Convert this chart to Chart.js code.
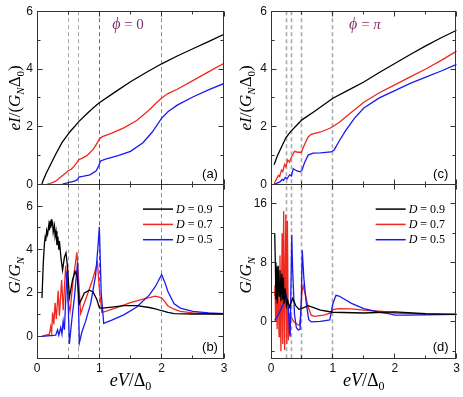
<!DOCTYPE html>
<html><head><meta charset="utf-8">
<script src="https://cdn.jsdelivr.net/npm/chart.js@4"></script>
<style>
html,body{margin:0;padding:0;background:#fff;}
#wrap{position:relative;width:463px;height:397px;overflow:hidden;}
.c{position:absolute;top:0;height:397px;}
</style></head><body>
<div id="wrap">
<div class="c" style="left:0;width:232px"><canvas id="cl"></canvas></div>
<div class="c" style="left:234px;width:229px"><canvas id="cr"></canvas></div>
</div>
<script>
// ---- tick labels ----
const xTicks = [0, 1, 2, 3];
const iTicks = [0, 2, 4, 6];
const gTicksPhi0 = [0, 2, 4, 6];
const gTicksPhiPi = [0, 8, 16];
const seriesNames = ['D', 'D', 'D'];
const seriesValues = ['0.9', '0.7', '0.5'];
const dashesPhi0 = [0.5, 0.667, 1, 2];
const dashesPhiPi = [0.25, 0.333, 0.5, 1];

// ---- (a) I-V, phi = 0 ----
const a_D09 = [[0.075,0.0],[0.1,0.15],[0.15,0.4],[0.2,0.62],[0.3,1.05],[0.4,1.45],[0.5,1.75],[0.55,1.88],[0.6,2.0],[0.67,2.18],[0.8,2.45],[0.9,2.65],[1.0,2.83],[1.25,3.2],[1.5,3.56],[1.75,3.88],[2.0,4.18],[2.25,4.45],[2.5,4.7],[2.75,4.95],[3.0,5.2]];
const a_D07 = [[0.075,0],[0.15,0.0],[0.2,0.03],[0.3,0.12],[0.4,0.3],[0.47,0.42],[0.5,0.48],[0.55,0.53],[0.6,0.65],[0.67,0.86],[0.72,0.91],[0.8,1.0],[0.9,1.22],[0.97,1.45],[1.0,1.58],[1.05,1.66],[1.2,1.78],[1.4,1.97],[1.6,2.22],[1.8,2.58],[1.9,2.8],[2.0,3.0],[2.1,3.15],[2.25,3.3],[2.5,3.6],[2.75,3.9],[3.0,4.2]];
const a_D05 = [[0.075,0],[0.3,0.0],[0.4,0.01],[0.5,0.07],[0.6,0.12],[0.65,0.17],[0.67,0.26],[0.75,0.29],[0.85,0.34],[0.95,0.48],[0.99,0.65],[1.02,0.82],[1.1,0.88],[1.3,1.0],[1.5,1.15],[1.7,1.45],[1.85,1.82],[2.0,2.3],[2.1,2.52],[2.25,2.75],[2.5,3.03],[2.75,3.28],[3.0,3.5]];

// ---- (b) G, phi = 0 ----
const b_D09 = [[0.08,1.77],[0.1,3.35],[0.12,4.3],[0.13,4.55],[0.14,4.4],[0.155,4.88],[0.17,4.7],[0.19,5.15],[0.2,4.9],[0.21,5.33],[0.22,5.0],[0.23,5.4],[0.24,5.1],[0.25,5.3],[0.26,4.8],[0.28,5.1],[0.29,4.6],[0.305,4.85],[0.32,4.2],[0.335,4.6],[0.35,4.0],[0.36,4.4],[0.385,3.6],[0.41,3.05],[0.44,3.65],[0.465,3.85],[0.49,3.2],[0.52,1.8],[0.57,2.6],[0.61,3.0],[0.645,2.75],[0.68,1.5],[0.76,2.0],[0.84,2.13],[0.9,2.05],[0.96,1.7],[1.0,1.32],[1.05,1.3],[1.2,1.35],[1.4,1.42],[1.6,1.42],[1.8,1.33],[1.9,1.27],[2.0,1.18],[2.1,1.1],[2.2,1.05],[2.5,1.03],[3.0,1.03]];
const b_D07 = [[0.075,0],[0.2,0.1],[0.22,0.45],[0.235,0.2],[0.25,1.1],[0.27,0.55],[0.29,1.55],[0.31,0.8],[0.34,2.1],[0.36,0.95],[0.395,2.6],[0.42,1.2],[0.46,3.25],[0.5,1.6],[0.53,1.15],[0.58,2.6],[0.64,3.88],[0.67,2.5],[0.7,1.05],[0.78,1.7],[0.89,2.6],[0.97,3.4],[1.0,2.2],[1.04,1.1],[1.1,1.15],[1.3,1.35],[1.5,1.55],[1.7,1.72],[1.9,1.85],[2.0,1.78],[2.05,1.6],[2.1,1.4],[2.2,1.25],[2.3,1.15],[2.5,1.08],[3.0,1.03]];
const b_D05 = [[0.08,0],[0.3,0.05],[0.33,0.3],[0.35,0.05],[0.38,0.4],[0.4,0.1],[0.42,0.7],[0.44,0.3],[0.48,3.0],[0.5,1.5],[0.52,-0.35],[0.56,0.8],[0.6,1.8],[0.65,3.4],[0.68,-0.3],[0.72,0.2],[0.78,0.7],[0.86,1.5],[0.94,2.8],[0.98,4.2],[1.0,5.05],[1.03,2.0],[1.07,0.6],[1.2,0.75],[1.4,1.0],[1.6,1.35],[1.8,1.9],[1.9,2.3],[2.0,2.85],[2.05,2.5],[2.1,2.07],[2.2,1.5],[2.3,1.3],[2.5,1.15],[2.75,1.08],[3.0,1.05]];

// ---- (c) I-V, phi = pi ----
const c_D09 = [[0.05,0.69],[0.1,0.98],[0.16,1.26],[0.24,1.62],[0.32,1.84],[0.4,2.02],[0.5,2.24],[0.7,2.53],[1.0,2.99],[1.25,3.27],[1.5,3.55],[1.75,3.88],[2.0,4.19],[2.25,4.5],[2.5,4.8],[2.75,5.08],[3.0,5.34]];
const c_D07 = [[0.05,0.02],[0.09,0.2],[0.12,0.32],[0.14,0.28],[0.17,0.5],[0.19,0.45],[0.22,0.7],[0.24,0.62],[0.27,0.85],[0.3,0.78],[0.33,0.95],[0.38,1.15],[0.43,1.12],[0.49,1.12],[0.54,1.38],[0.6,1.65],[0.65,1.74],[0.8,1.82],[0.95,1.95],[1.0,2.01],[1.1,2.15],[1.25,2.42],[1.5,2.85],[1.75,3.18],[2.0,3.45],[2.25,3.73],[2.5,4.0],[2.75,4.3],[3.0,4.62]];
const c_D05 = [[0.05,0.0],[0.1,0.05],[0.15,0.1],[0.18,0.18],[0.2,0.14],[0.23,0.25],[0.26,0.2],[0.3,0.34],[0.33,0.3],[0.36,0.55],[0.41,0.48],[0.47,0.44],[0.5,0.5],[0.54,0.75],[0.6,1.02],[0.68,1.09],[0.8,1.1],[0.97,1.13],[1.02,1.2],[1.1,1.5],[1.2,1.85],[1.35,2.3],[1.5,2.65],[1.75,3.0],[2.0,3.25],[2.25,3.5],[2.5,3.72],[2.75,3.93],[3.0,4.16]];

// ---- (d) G, phi = pi ----
const d_D09 = [[0.06,12.0],[0.07,8],[0.08,3],[0.09,7.5],[0.1,2.5],[0.115,7.6],[0.13,3.5],[0.145,7.0],[0.16,2.8],[0.175,6.5],[0.19,3.0],[0.2,6.0],[0.215,2.5],[0.23,4.5],[0.25,2.2],[0.27,2.9],[0.3,2.0],[0.35,3.2],[0.4,2.2],[0.45,1.7],[0.52,1.9],[0.6,2.2],[0.7,1.9],[0.8,1.6],[1.0,1.3],[1.5,1.2],[2.0,1.35],[2.5,1.1],[3.0,1.0]];
const d_D07 = [[0.06,3.5],[0.065,5],[0.075,0],[0.085,6],[0.1,-1],[0.115,7.5],[0.13,-2],[0.145,9],[0.16,-4],[0.18,12],[0.19,-3],[0.205,15],[0.22,-3.8],[0.24,14.5],[0.255,-3],[0.265,13.7],[0.28,-2.5],[0.3,1.0],[0.33,0.6],[0.37,0.0],[0.42,-0.3],[0.46,-0.5],[0.48,1],[0.5,4],[0.52,4.9],[0.56,3.5],[0.6,2.0],[0.65,0.9],[0.7,0.75],[0.85,0.9],[0.97,1.2],[1.0,1.65],[1.1,1.8],[1.3,1.75],[1.5,1.6],[1.8,1.4],[2.0,1.2],[2.5,1.05],[3.0,1.0]];
const d_D05 = [[0.06,0.2],[0.1,0.7],[0.15,1.5],[0.2,2.5],[0.25,3.5],[0.28,2],[0.3,-1.5],[0.31,-2.0],[0.335,11.8],[0.35,7],[0.38,1],[0.41,-0.8],[0.44,-1.1],[0.47,-1],[0.49,3],[0.505,9.7],[0.53,6],[0.57,2.5],[0.61,0.3],[0.65,0],[0.8,0.05],[0.95,0.25],[1.0,2.5],[1.05,3.6],[1.1,3.5],[1.3,2.5],[1.5,1.8],[1.75,1.3],[1.9,1.1],[2.0,0.9],[2.2,0.9],[2.5,0.95],[3.0,1.0]];

const COLORS = ['#000000', '#f0281c', '#1a1af0'];
const ORDERS = [1, 3, 2];
const SERIF = "'Liberation Serif','Times New Roman',serif";
const SANS = "'Liberation Sans',Arial,sans-serif";

function rich(ctx, parts, x, y, rot) {
  ctx.save();
  ctx.translate(x, y);
  if (rot) ctx.rotate(rot);
  let w = 0;
  parts.forEach(p => { ctx.font = p.f; w += ctx.measureText(p.t).width; });
  let cx = -w / 2;
  ctx.textBaseline = 'alphabetic'; ctx.textAlign = 'left';
  parts.forEach(p => {
    ctx.font = p.f; ctx.fillStyle = p.c || '#000';
    ctx.fillText(p.t, cx, (p.dy || 0));
    cx += ctx.measureText(p.t).width;
  });
  ctx.restore();
}

function minorsOf(majors, min, max) {
  const step = majors[1] - majors[0];
  const out = [];
  for (let v = majors[0] - step / 2; v >= min; v -= step) out.push(v);
  for (let i = 0; i < majors.length; i++) { const v = majors[i] + step / 2; if (v <= max) out.push(v); }
  return out;
}

const decor = {
  id: 'decor',
  beforeDatasetsDraw(chart, a, o) {
    const {ctx, chartArea: ca} = chart; const xs = chart.scales.x;
    ctx.save();
    ctx.lineWidth = o.dashWidth; ctx.setLineDash([4, 3]);
    o.vlines.forEach((v, i) => {
      ctx.strokeStyle = o.dashColors[i];
      const px = Math.floor(xs.getPixelForValue(v)) + 0.5;
      ctx.beginPath(); ctx.moveTo(px, ca.top); ctx.lineTo(px, ca.bottom); ctx.stroke();
    });
    ctx.restore();
  },
  afterDatasetsDraw(chart, a, o) {
    const {ctx, chartArea: ca} = chart; const xs = chart.scales.x;
    ctx.save();
    ctx.strokeStyle = '#333'; ctx.lineWidth = 1; ctx.setLineDash([]);
    const seg = (x1, y1, x2, y2) => { ctx.beginPath(); ctx.moveTo(x1, y1); ctx.lineTo(x2, y2); ctx.stroke(); };
    const L = Math.floor(ca.left) + 0.5, R = Math.floor(ca.right) - 0.5;
    const xMin = minorsOf(xTicks, 0, 3);
    ['yT', 'yB'].forEach(k => {
      const s = chart.scales[k];
      const T = Math.floor(s.top) + 0.5, B = Math.floor(s.bottom) + 0.5;
      ctx.strokeRect(L, T, R - L, B - T);
      xTicks.forEach(v => { const px = Math.floor(xs.getPixelForValue(v)) + 0.5; seg(px, B, px, B - 5); seg(px, T, px, T + 5); });
      xMin.forEach(v => { const px = Math.floor(xs.getPixelForValue(v)) + 0.5; seg(px, B, px, B - 3); seg(px, T, px, T + 3); });
      const maj = o.yMajor[k];
      maj.forEach(v => { const py = Math.floor(s.getPixelForValue(v)) + 0.5; seg(L, py, L + 5, py); seg(R, py, R - 5, py); });
      minorsOf(maj, s.min, s.max).forEach(v => { const py = Math.floor(s.getPixelForValue(v)) + 0.5; seg(L, py, L + 3, py); seg(R, py, R - 3, py); });
    });
    ctx.restore();

    const yT = chart.scales.yT, yB = chart.scales.yB;
    const big = 'italic 17px ' + SERIF, bigU = '17px ' + SERIF, sub = 'italic 11px ' + SERIF, subU = '11px ' + SERIF;
    // y titles
    rich(ctx, [{t: 'eI', f: big}, {t: '/(', f: bigU}, {t: 'G', f: big}, {t: 'N', f: sub, dy: 4}, {t: 'Δ', f: bigU}, {t: '0', f: subU, dy: 4}, {t: ')', f: bigU}],
      o.titleX + 6, (yT.top + yT.bottom) / 2, -Math.PI / 2);
    rich(ctx, [{t: 'G', f: big}, {t: '/', f: bigU}, {t: 'G', f: big}, {t: 'N', f: sub, dy: 4}],
      o.titleX + 6, (yB.top + yB.bottom) / 2 + 4, -Math.PI / 2);
    // x title
    rich(ctx, [{t: 'eV', f: 'italic 18px ' + SERIF}, {t: '/Δ', f: '18px ' + SERIF}, {t: '0', f: '12px ' + SERIF, dy: 4}],
      (ca.left + ca.right) / 2, 386, 0);
    // phi label
    rich(ctx, [{t: 'ϕ', f: 'italic 16px ' + SERIF, c: '#7d2f6d'}, {t: ' = ', f: '15px ' + SERIF, c: '#7d2f6d'}, {t: o.phi, f: (o.phi === 'π' ? 'italic ' : '') + '15px ' + SERIF, c: '#7d2f6d'}],
      o.phiX, 29, 0);
    // panel labels
    ctx.save();
    ctx.font = '13px ' + SANS; ctx.fillStyle = '#000'; ctx.textAlign = 'center'; ctx.textBaseline = 'middle';
    ctx.fillText(o.labels[0], ca.right - o.lblDx, yT.bottom - 10.5);
    ctx.fillText(o.labels[1], ca.right - o.lblDx, yB.bottom - 10.5);
    // legend
    ctx.lineWidth = 1.5;
    for (let i = 0; i < 3; i++) {
      const y = yB.top + 24.5 + i * 15.3;
      ctx.strokeStyle = COLORS[i];
      ctx.beginPath(); ctx.moveTo(ca.right - 81, y); ctx.lineTo(ca.right - 51, y); ctx.stroke();
      ctx.textAlign = 'left'; ctx.textBaseline = 'middle';
      ctx.font = 'italic 12px ' + SERIF; ctx.fillStyle = '#000';
      const x0 = ca.right - 48;
      ctx.fillText(seriesNames[i], x0, y + 0.5);
      const w = ctx.measureText(seriesNames[i]).width;
      ctx.font = '12px ' + SERIF;
      ctx.fillText(' = ' + seriesValues[i], x0 + w, y + 0.5);
    }
    ctx.restore();
  }
};

function build(id, I, G, gMin, gMax, gTicks, padRight, extra) {
  const ds = [];
  I.forEach((arr, i) => ds.push({data: arr.map(p => ({x: p[0], y: p[1]})), yAxisID: 'yT', borderColor: COLORS[i], borderWidth: 1.3, pointRadius: 0, tension: 0, fill: false, order: ORDERS[i]}));
  G.forEach((arr, i) => ds.push({data: arr.map(p => ({x: p[0], y: p[1]})), yAxisID: 'yB', borderColor: COLORS[i], borderWidth: 1.3, pointRadius: 0, tension: 0, fill: false, order: ORDERS[i]}));
  const tickFont = {family: SANS, size: 12};
  const yCommon = {
    type: 'linear', position: 'left', stack: 'col', stackWeight: 1,
    grid: {display: false, drawTicks: false}, border: {display: false},
    ticks: {padding: 4, color: '#111', font: tickFont, autoSkip: false, callback: v => String(v)},
    afterFit: s => { s.width = 37; }
  };
  new Chart(document.getElementById(id), {
    type: 'line',
    data: {datasets: ds},
    plugins: [decor],
    options: {
      responsive: true, maintainAspectRatio: false, animation: false, devicePixelRatio: 1,
      layout: {padding: {top: 9, right: padRight, bottom: 0, left: 0}},
      plugins: {legend: {display: false}, tooltip: {enabled: false}, decor: extra},
      scales: {
        x: {type: 'linear', position: 'bottom', min: 0, max: 3,
          grid: {display: false, drawTicks: false}, border: {display: false},
          ticks: {padding: 3, color: '#111', font: tickFont, autoSkip: false, maxRotation: 0, callback: v => String(v)},
          afterBuildTicks: s => { s.ticks = xTicks.map(v => ({value: v})); },
          afterFit: s => { s.height = 39; }},
        yT: Object.assign({}, yCommon, {min: 0, max: 6, weight: 1,
          afterBuildTicks: s => { s.ticks = iTicks.map(v => ({value: v})); }}),
        yB: Object.assign({}, yCommon, {min: gMin, max: gMax, weight: 0,
          afterBuildTicks: s => { s.ticks = gTicks.map(v => ({value: v})); }})
      }
    }
  });
}

build('cl', [a_D09, a_D07, a_D05], [b_D09, b_D07, b_D05], -1, 7, gTicksPhi0, 8,
  {vlines: dashesPhi0, dashColors: ['#a8a8a8', '#a8a8a8', '#6e6e6e', '#8e8e8e'], dashWidth: 1, yMajor: {yT: iTicks, yB: gTicksPhi0},
   titleX: 13.5, phi: '0', phiX: 128, labels: ['(a)', '(b)'], lblDx: 14});
build('cr', [c_D09, c_D07, c_D05], [d_D09, d_D07, d_D05], -4.9, 18.6, gTicksPhiPi, 6,
  {vlines: dashesPhiPi, dashColors: ['#aaaaaa', '#aaaaaa', '#aaaaaa', '#aaaaaa'], dashWidth: 1.6, yMajor: {yT: iTicks, yB: gTicksPhiPi},
   titleX: 10.5, phi: 'π', phiX: 131, labels: ['(c)', '(d)'], lblDx: 16});
</script>
</body></html>
